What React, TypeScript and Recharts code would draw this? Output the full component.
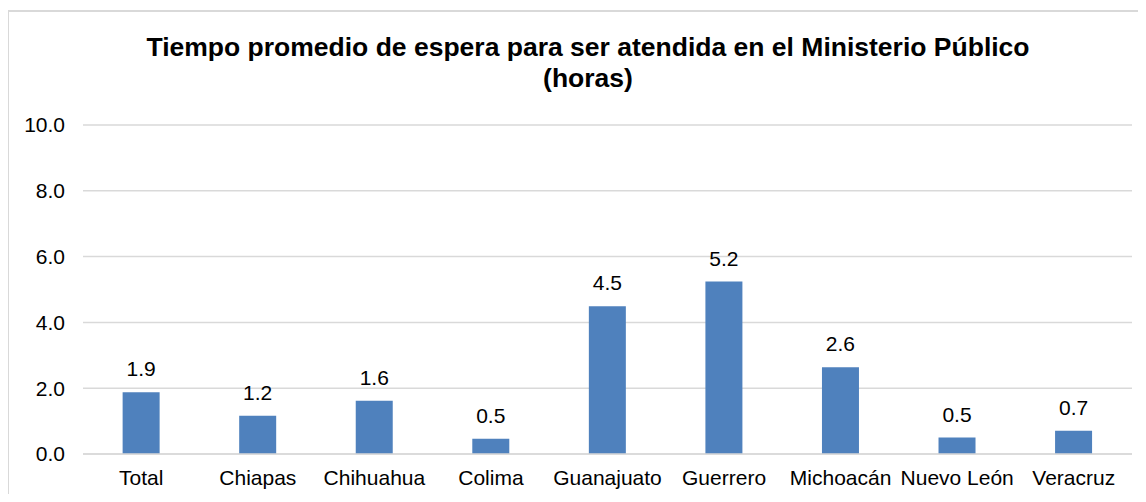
import { BarChart, Bar, XAxis, YAxis, CartesianGrid, LabelList } from "recharts";

const estados = [
  "Total",
  "Chiapas",
  "Chihuahua",
  "Colima",
  "Guanajuato",
  "Guerrero",
  "Michoacán",
  "Nuevo León",
  "Veracruz",
];
const horas = [1.88, 1.16, 1.62, 0.46, 4.49, 5.24, 2.64, 0.5, 0.71];
const yTicks = [0, 2, 4, 6, 8, 10];

const data = estados.map((estado, i) => ({ estado, horas: horas[i] }));

const FONT = "'Liberation Sans', Arial, sans-serif";
const FRAME = "#d9d9d9";

export default function App() {
  return (
    <div
      style={{
        position: "relative",
        width: 1130,
        height: 486,
        fontFamily: FONT,
        background: "#fff",
      }}
    >
      {/* frame: only top and left edges show in the picture */}
      <div style={{ position: "absolute", left: -1, top: 2, width: 1138, height: 2, background: FRAME }} />
      <div style={{ position: "absolute", left: -1, top: 2, width: 2, height: 484, background: FRAME }} />
      <div
        style={{
          position: "absolute",
          left: -8,
          width: 1176,
          top: 24,
          textAlign: "center",
          fontWeight: "bold",
          fontSize: 26.5,
          lineHeight: "31px",
          color: "#000",
        }}
      >
        Tiempo promedio de espera para ser atendida en el Ministerio Público
        <br />
        (horas)
      </div>
      <div style={{ position: "absolute", left: 0, top: 0 }}>
        <BarChart
          width={1130}
          height={486}
          data={data}
          margin={{ top: 117, right: 6, bottom: 0, left: 0 }}
          barCategoryGap="34%"
        >
          <CartesianGrid vertical={false} stroke="#d9d9d9" strokeWidth={1.5} />
          <XAxis
            dataKey="estado"
            height={40}
            tickLine={false}
            tickSize={0}
            tickMargin={16}
            axisLine={{ stroke: "#d9d9d9", strokeWidth: 1.5 }}
            tick={{ fontSize: 21, fill: "#000", fontFamily: FONT }}
            interval={0}
          />
          <YAxis
            width={75}
            domain={[0, 10]}
            ticks={yTicks}
            tickFormatter={(v: number) => v.toFixed(1)}
            axisLine={false}
            tickLine={false}
            tickSize={0}
            tickMargin={18}
            tick={{ fontSize: 21, fill: "#000", fontFamily: FONT }}
          />
          <Bar dataKey="horas" fill="#4F81BD" isAnimationActive={false}>
            <LabelList
              dataKey="horas"
              position="top"
              offset={16}
              formatter={(v: number) => v.toFixed(1)}
              style={{ fontSize: 21, fill: "#000", fontFamily: FONT }}
            />
          </Bar>
        </BarChart>
      </div>
    </div>
  );
}
